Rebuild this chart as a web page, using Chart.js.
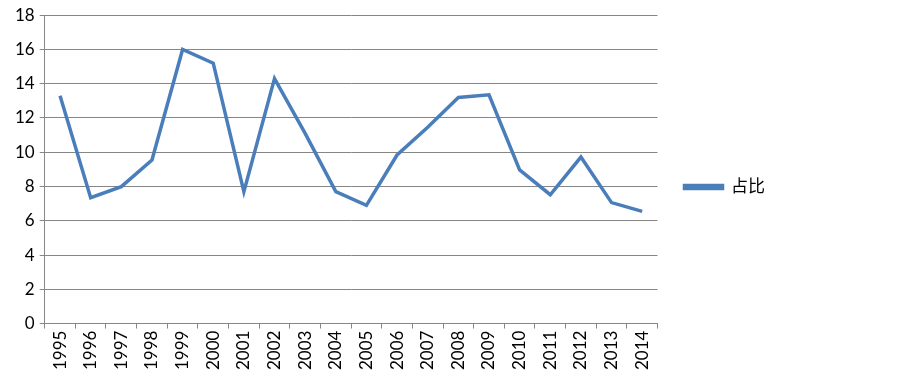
<!DOCTYPE html>
<html>
<head>
<meta charset="utf-8">
<script src="https://cdn.jsdelivr.net/npm/chart.js@4.4.1/dist/chart.umd.min.js"></script>
<style>
  html, body { margin: 0; padding: 0; background: #fff; }
  #wrap { width: 903px; height: 376px; position: relative; }
</style>
</head>
<body>
<div id="wrap"><canvas id="chart"></canvas></div>
<script>
// data
const years = ['1995','1996','1997','1998','1999','2000','2001','2002','2003','2004',
               '2005','2006','2007','2008','2009','2010','2011','2012','2013','2014'];
const shares = [13.3, 7.35, 7.99, 9.55, 16.0, 15.2, 7.7, 14.3, 11.1, 7.7,
                6.9, 9.84, 11.46, 13.2, 13.35, 8.97, 7.52, 9.72, 7.06, 6.55];
const seriesName = '占比';

const FONT = 'Lato, "Noto Sans CJK SC", sans-serif';
const GRID = '#868686';

new Chart(document.getElementById('chart').getContext('2d'), {
  type: 'line',
  data: {
    labels: years,
    datasets: [{
      label: seriesName,
      data: shares,
      borderColor: '#4a7ebb',
      backgroundColor: '#4a7ebb',
      borderWidth: 3.5,
      pointRadius: 0,
      tension: 0,
      fill: false,
    }]
  },
  options: {
    responsive: true,
    maintainAspectRatio: false,
    animation: false,
    layout: { padding: { top: 2, left: 10, right: 128, bottom: 4 } },
    plugins: {
      tooltip: { enabled: false },
      legend: {
        position: 'right',
        labels: {
          boxWidth: 38, boxHeight: 3, padding: 27,
          color: '#000', font: { family: FONT, size: 17 }
        }
      }
    },
    scales: {
      x: {
        offset: true,
        grid: { offset: true, drawOnChartArea: false, drawTicks: true, tickLength: 5, color: GRID },
        border: { color: GRID, width: 1 },
        ticks: { color: '#000', font: { family: FONT, size: 17 }, maxRotation: 90, minRotation: 90, autoSkip: false, padding: 2 }
      },
      y: {
        min: 0, max: 18,
        grid: { color: GRID, lineWidth: 1, tickLength: 5 },
        border: { color: GRID, width: 1 },
        ticks: { stepSize: 2, color: '#000', font: { family: FONT, size: 17 }, padding: 5 }
      }
    }
  }
});
</script>
</body>
</html>
